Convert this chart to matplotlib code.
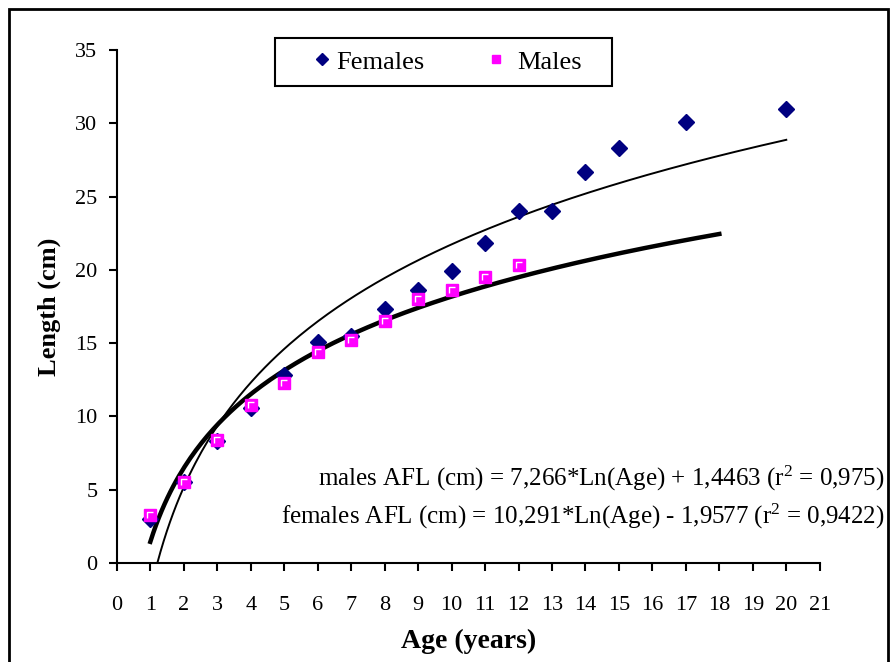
import numpy as np
import matplotlib
matplotlib.use("Agg")
import matplotlib.pyplot as plt
from matplotlib.patches import Rectangle
from matplotlib.path import Path
from matplotlib.legend_handler import HandlerTuple

plt.rcParams["font.family"] = ["Liberation Serif", "DejaVu Serif"]
plt.rcParams["mathtext.fontset"] = "custom"
plt.rcParams["mathtext.rm"] = "Liberation Serif"
plt.rcParams["mathtext.it"] = "Liberation Serif"

# observed mean lengths per age
female_age = [1, 2, 3, 4, 5, 6, 7, 8, 9, 10, 11, 12, 13, 14, 15, 17, 20]
female_len = [3.0, 5.5, 8.3, 10.6, 12.8, 15.1, 15.5, 17.3, 18.6, 19.9, 21.8, 24.0, 24.0, 26.7, 28.3, 30.1, 31.0]
male_age = [1, 2, 3, 4, 5, 6, 7, 8, 9, 10, 11, 12]
male_len = [3.3, 5.5, 8.4, 10.8, 12.3, 14.4, 15.2, 16.5, 18.0, 18.6, 19.5, 20.3]

# fitted log trend coefficients (from the chart's equations)
fem_a, fem_b = 10.291, -1.9577
male_a, male_b = 7.266, 1.4463

fig = plt.figure(figsize=(8.92, 6.62), dpi=100)
ax = fig.add_axes([0.131, 0.1495, 0.788, 0.775])

# trend lines
x_f = np.linspace(np.exp(-fem_b / fem_a), 20, 200)
ax.plot(x_f, fem_a * np.log(x_f) + fem_b, color="black", lw=1.4, zorder=2)
x_m = np.linspace(1, 18, 200)
ax.plot(x_m, male_a * np.log(x_m) + male_b, color="black", lw=3.2, zorder=2)

fem_pts, = ax.plot(female_age, female_len, linestyle="none", marker="D", ms=8.5,
                   color="#000080", zorder=3)
male_pts, = ax.plot(male_age, male_len, linestyle="none", marker="s", ms=8,
                    markerfacecolor="#FF00FF", markeredgecolor="#FF00FF", zorder=4)
# little white corner highlight inside the Excel square marker
corner = Path([(-1, -1), (-1, 1), (1, 1)], [Path.MOVETO, Path.LINETO, Path.LINETO])
male_hl, = ax.plot(male_age, male_len, linestyle="none", marker=corner, ms=4,
                   fillstyle="none", markeredgecolor="white", markeredgewidth=1.0, zorder=5)

ax.set_xlim(0, 21)
ax.set_ylim(0, 35)
ax.set_xticks(range(0, 22))
ax.set_yticks(range(0, 36, 5))
ax.spines["top"].set_visible(False)
ax.spines["right"].set_visible(False)
ax.spines["left"].set_linewidth(1.5)
ax.spines["bottom"].set_linewidth(1.5)
ax.tick_params(axis="x", direction="out", length=6, width=1.5, labelsize=16, pad=18)
ax.tick_params(axis="y", direction="out", length=6, width=1.5, labelsize=16, pad=8)

ax.set_xlabel("Age (years)", fontsize=20, fontweight="bold", labelpad=10)
ax.set_ylabel("Length (cm)", fontsize=19, fontweight="bold", labelpad=10)

# legend entries without frame; the box is drawn separately to get Excel's padding
leg = ax.legend([fem_pts, (male_pts, male_hl)], ["Females", "Males"],
                handler_map={tuple: HandlerTuple(ndivide=None)},
                loc="center left", bbox_to_anchor=(0.2745, 0.9766), borderaxespad=0,
                ncol=2, prop={"family": "Liberation Serif", "size": 19},
                frameon=False, handletextpad=0.1, columnspacing=2.5, borderpad=0,
                handlelength=0.9, markerscale=0.75)
ax.add_patch(Rectangle((0.2248, 0.930), 0.4792, 0.0934, transform=ax.transAxes,
                       fill=False, edgecolor="black", linewidth=1.5, clip_on=False, zorder=6))

fig.text(0.992, 0.278, "males AFL (cm) = 7,266*Ln(Age) + 1,4463 (r$^{2}$ = 0,975)",
         ha="right", va="center", fontsize=18)
fig.text(0.992, 0.2205, "females AFL (cm) = 10,291*Ln(Age) - 1,9577 (r$^{2}$ = 0,9422)",
         ha="right", va="center", fontsize=18)

# outer border of the chart
fig.patches.append(Rectangle((0.01, -0.01), 0.985, 0.997, transform=fig.transFigure,
                             fill=False, edgecolor="black", linewidth=2))

fig.savefig("out.png", dpi=100)
